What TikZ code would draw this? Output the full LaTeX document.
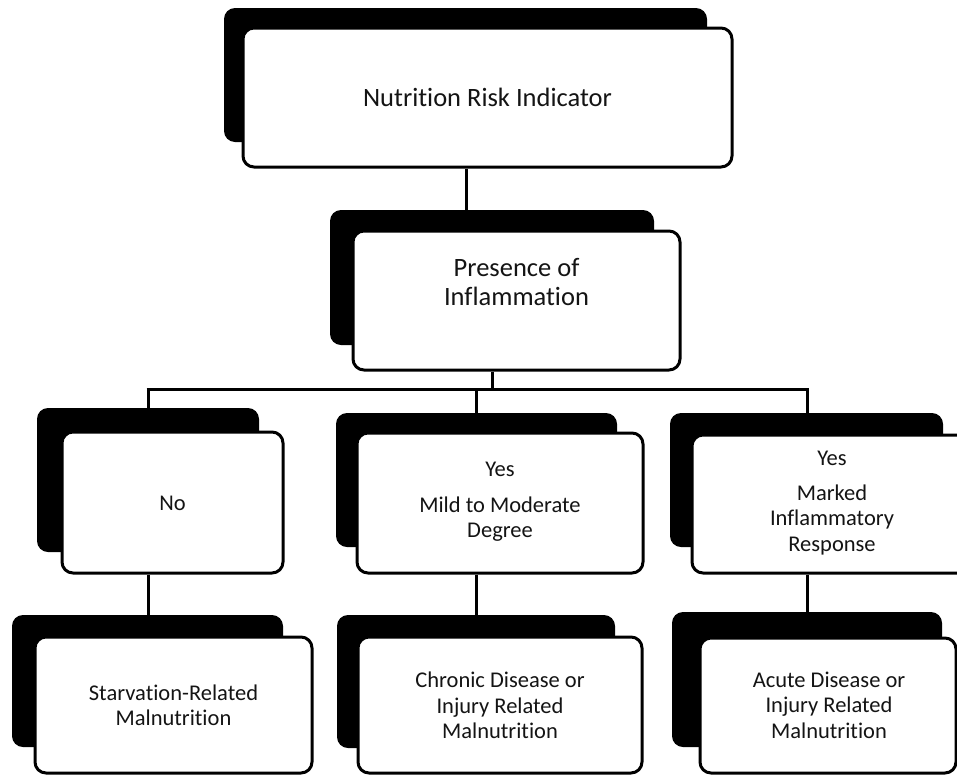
\documentclass[tikz,border=0pt]{standalone}
\usepackage{fontspec}
\setmainfont{Carlito}[RawFeature={-liga;-clig;-dlig;-calt}]
\begin{document}
\begin{tikzpicture}[x=1pt,y=-1pt,
  front/.style={draw=black, fill=white, line width=3pt, rounded corners=11pt, inner sep=0pt},
  shade/.style={fill=black, draw=none, rounded corners=11pt, inner sep=0pt},
  big/.style={font=\fontsize{26.5}{29}\selectfont, align=center, text=black!92},
  lbl/.style={font=\fontsize{22.5}{25.5}\selectfont, align=center, text=black!92},
  conn/.style={line width=3pt}]
\useasboundingbox (0,0) rectangle (957,774);
\clip (0,0) rectangle (957,774);
% level 1
\node[shade, minimum width=483pt, minimum height=134pt] (s1) at (465.5,75) {};
\node[front, minimum width=489pt, minimum height=139pt] (b1) at (487.5,97.5) {};
\node[big] (t1) at (487.5,97) {Nutrition Risk Indicator};
% level 2
\node[shade, minimum width=324pt, minimum height=135pt] (s2) at (492,277.5) {};
\node[front, minimum width=327pt, minimum height=139pt] (b2) at (516.5,300.5) {};
\node[big] (t2) at (516.5,282) {Presence of\\Inflammation};
% level 3
\node[shade, minimum width=222pt, minimum height=144pt] (s3a) at (148,480) {};
\node[front, minimum width=221pt, minimum height=141pt] (b3a) at (172.5,502.5) {};
\node[lbl] (t3a) at (172.5,503) {No};
\node[shade, minimum width=281pt, minimum height=134pt] (s3b) at (476.5,480) {};
\node[front, minimum width=286pt, minimum height=140pt] (b3b) at (500,503) {};
\node[lbl] (t3b) at (500,502) {Yes\\[10pt]Mild to Moderate\\Degree};
\node[shade, minimum width=273pt, minimum height=134pt] (s3c) at (806.5,480) {};
\node[front, minimum width=280pt, minimum height=138pt] (b3c) at (832,504) {};
\node[lbl] (t3c) at (832,503) {Yes\\[9pt]Marked\\Inflammatory\\Response};
% level 4
\node[shade, minimum width=271pt, minimum height=132pt] (s4a) at (147.5,681) {};
\node[front, minimum width=277pt, minimum height=136pt] (b4a) at (173.5,705) {};
\node[lbl] (t4a) at (173.5,705.5) {Starvation-Related\\Malnutrition};
\node[shade, minimum width=278pt, minimum height=133pt] (s4b) at (476,681.5) {};
\node[front, minimum width=284pt, minimum height=136pt] (b4b) at (500,705) {};
\node[lbl] (t4b) at (500,705.5) {Chronic Disease or\\Injury Related\\Malnutrition};
\node[shade, minimum width=270pt, minimum height=135pt] (s4c) at (807,679.5) {};
\node[front, minimum width=256pt, minimum height=135pt] (b4c) at (828,705.5) {};
\node[lbl] (t4c) at (829,705) {Acute Disease or\\Injury Related\\Malnutrition};
% connector coordinates
\coordinate (c1) at (466,0);
\coordinate (c2) at (492,389);
\coordinate (cl) at (148,389);
\coordinate (cm) at (476,389);
\coordinate (cr) at (807,389);
% connectors
\draw[conn] (b1.south -| c1) -- (s2.north -| c1);
\draw[conn] (b2.south -| c2) -- (c2);
\draw[conn] ([xshift=-1.5pt]cl) -- ([xshift=1.5pt]cr);
\draw[conn] (cl) -- (s3a.north -| cl);
\draw[conn] (cm) -- (s3b.north -| cm);
\draw[conn] (cr) -- (s3c.north -| cr);
\draw[conn] (b3a.south -| cl) -- (s4a.north -| cl);
\draw[conn] (b3b.south -| cm) -- (s4b.north -| cm);
\draw[conn] (b3c.south -| cr) -- (s4c.north -| cr);
\end{tikzpicture}
\end{document}
